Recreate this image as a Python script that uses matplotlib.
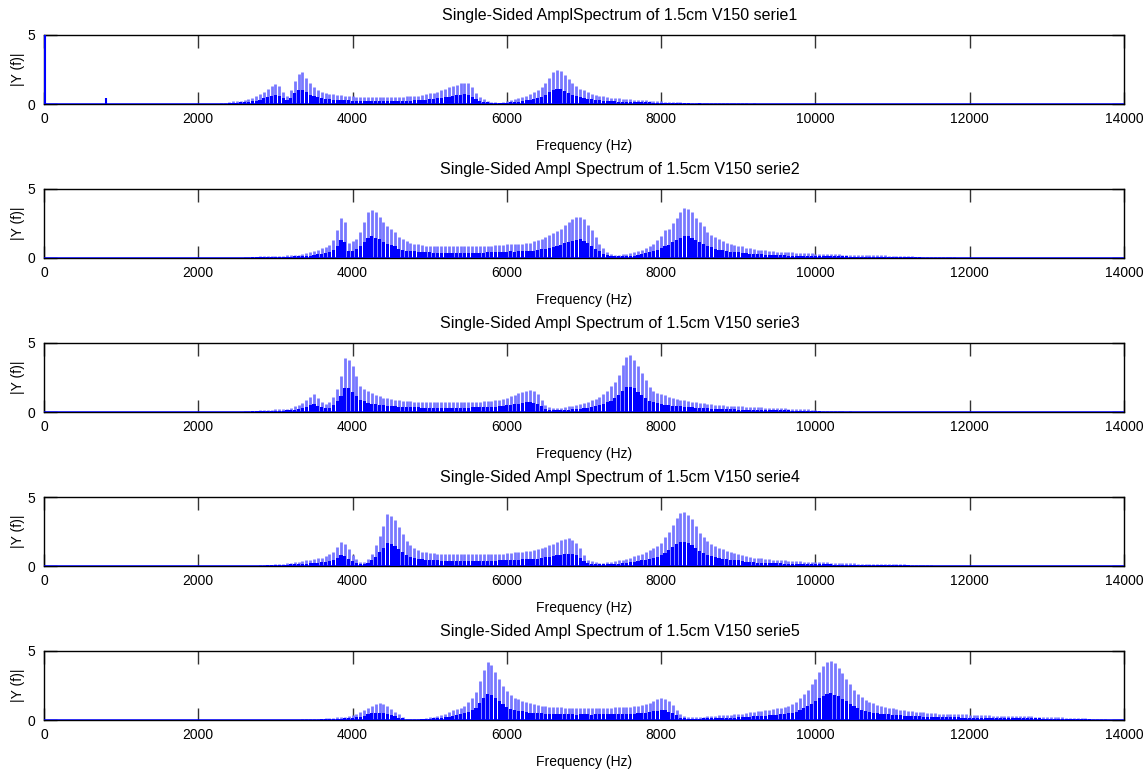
import matplotlib
matplotlib.use("Agg")
import matplotlib.pyplot as plt
import numpy as np

plt.rcParams['font.family'] = ['Liberation Sans', 'DejaVu Sans']

# spectrum line amplitudes, one value every STEP Hz from each start frequency
STEP = 50

start1 = 2300
amp1 = [
    0.05, 0.08, 0.15, 0.2, 0.2, 0.25, 0.3, 0.35, 0.45, 0.55,
    0.7, 0.9, 1.1, 1.3, 1.45, 1.3, 0.9, 0.6, 1.0, 1.7,
    2.2, 2.3, 1.9, 1.5, 1.25, 1.05, 0.9, 0.8, 0.75, 0.7,
    0.65, 0.62, 0.6, 0.58, 0.55, 0.5, 0.5, 0.5, 0.48, 0.5,
    0.5, 0.48, 0.5, 0.5, 0.5, 0.5, 0.52, 0.5, 0.55, 0.55,
    0.6, 0.6, 0.65, 0.7, 0.8, 0.8, 0.9, 1.0, 1.1, 1.2,
    1.3, 1.4, 1.5, 1.55, 1.5, 1.2, 0.8, 0.5, 0.35, 0.25,
    0.15, 0.12, 0.1, 0.12, 0.2, 0.3, 0.35, 0.4, 0.5, 0.6,
    0.7, 0.85, 1.0, 1.2, 1.5, 1.9, 2.3, 2.45, 2.4, 2.1,
    1.8, 1.5, 1.3, 1.1, 1.0, 0.85, 0.75, 0.65, 0.6, 0.55,
    0.5, 0.45, 0.42, 0.4, 0.38, 0.35, 0.33, 0.3, 0.3, 0.28,
    0.27, 0.25, 0.23, 0.2, 0.2, 0.18, 0.15, 0.15, 0.12, 0.12,
    0.1, 0.1, 0.08, 0.08, 0.1, 0.06, 0.06, 0.08, 0.05, 0.05,
    0.06, 0.04, 0.05, 0.04, 0.05, 0.04, 0.05, 0.03, 0.04, 0.03,
]

start2 = 2600
amp2 = [
    0.05, 0.08, 0.1, 0.1, 0.12, 0.12, 0.14, 0.15, 0.16, 0.18,
    0.18, 0.2, 0.22, 0.25, 0.25, 0.3, 0.35, 0.4, 0.5, 0.6,
    0.7, 0.8, 0.95, 1.3, 2.0, 2.9, 2.6, 1.1, 1.2, 1.4,
    1.9, 2.6, 3.3, 3.5, 3.3, 3.0, 2.6, 2.3, 2.1, 1.9,
    1.5, 1.35, 1.2, 1.1, 1.05, 1.0, 0.95, 0.9, 0.9, 0.88,
    0.85, 0.85, 0.85, 0.85, 0.84, 0.85, 0.85, 0.85, 0.86, 0.85,
    0.86, 0.88, 0.88, 0.9, 0.9, 0.92, 0.95, 0.95, 1.0, 1.05,
    1.0, 1.05, 1.05, 1.1, 1.1, 1.2, 1.3, 1.4, 1.5, 1.65,
    1.8, 1.95, 2.1, 2.4, 2.6, 2.8, 2.95, 3.0, 2.8, 2.4,
    2.0, 1.5, 1.05, 0.7, 0.45, 0.3, 0.25, 0.25, 0.28, 0.3,
    0.35, 0.4, 0.5, 0.6, 0.75, 0.9, 1.05, 1.3, 1.6, 2.0,
    2.1, 2.5, 2.9, 3.3, 3.6, 3.55, 3.3, 2.9, 2.6, 2.3,
    1.9, 1.7, 1.5, 1.35, 1.25, 1.1, 1.0, 0.95, 0.9, 0.85,
    0.75, 0.7, 0.65, 0.6, 0.58, 0.55, 0.5, 0.48, 0.45, 0.45,
    0.42, 0.4, 0.4, 0.38, 0.36, 0.35, 0.35, 0.33, 0.32, 0.3,
    0.3, 0.28, 0.28, 0.27, 0.26, 0.25, 0.25, 0.24, 0.23, 0.23,
    0.22, 0.22, 0.21, 0.2, 0.2, 0.2, 0.19, 0.18, 0.17, 0.16,
    0.15, 0.14, 0.13, 0.12, 0.1, 0.1, 0.08, 0.08, 0.07, 0.06,
    0.05, 0.05, 0.04, 0.05, 0.04, 0.03,
]

start3 = 2600
amp3 = [
    0.05, 0.08, 0.1, 0.1, 0.12, 0.14, 0.15, 0.18, 0.2, 0.22,
    0.24, 0.25, 0.3, 0.4, 0.5, 0.65, 0.85, 1.1, 1.3, 1.0,
    0.75, 0.6, 0.7, 1.1, 1.7, 2.6, 3.9, 3.8, 3.3, 2.6,
    1.9, 1.7, 1.5, 1.35, 1.25, 1.15, 1.05, 1.0, 0.95, 0.9,
    0.85, 0.82, 0.8, 0.77, 0.75, 0.74, 0.72, 0.72, 0.7, 0.7,
    0.7, 0.7, 0.7, 0.7, 0.71, 0.7, 0.72, 0.72, 0.72, 0.73,
    0.75, 0.76, 0.78, 0.8, 0.82, 0.85, 0.9, 0.95, 1.05, 1.15,
    1.25, 1.35, 1.45, 1.55, 1.6, 1.5, 1.3, 0.9, 0.5, 0.35,
    0.3, 0.3, 0.32, 0.35, 0.4, 0.45, 0.5, 0.55, 0.62, 0.7,
    0.85, 0.95, 1.1, 1.3, 1.55, 1.85, 2.2, 2.7, 3.4, 4.0,
    4.1, 3.8, 3.3, 2.8, 2.3, 1.8, 1.55, 1.4, 1.3, 1.2,
    1.1, 1.0, 0.95, 0.9, 0.85, 0.8, 0.75, 0.7, 0.68, 0.65,
    0.6, 0.55, 0.52, 0.5, 0.48, 0.46, 0.45, 0.42, 0.4, 0.4,
    0.38, 0.36, 0.35, 0.34, 0.33, 0.32, 0.3, 0.3, 0.28, 0.27,
    0.26, 0.25, 0.24, 0.23, 0.22, 0.21, 0.2, 0.18, 0.15, 0.1,
    0.08, 0.06, 0.05, 0.05, 0.04, 0.05, 0.03, 0.04,
]

start4 = 2800
amp4 = [
    0.05, 0.08, 0.1, 0.1, 0.12, 0.14, 0.16, 0.2, 0.25, 0.3,
    0.3, 0.35, 0.4, 0.45, 0.5, 0.55, 0.6, 0.7, 0.85, 1.0,
    1.35, 1.75, 1.6, 1.2, 0.8, 0.5, 0.3, 0.3, 0.5, 0.9,
    1.5, 2.2, 2.9, 3.75, 3.6, 3.3, 2.8, 2.3, 1.8, 1.5,
    1.3, 1.15, 1.05, 1.0, 0.95, 0.92, 0.9, 0.88, 0.86, 0.85,
    0.85, 0.84, 0.85, 0.85, 0.85, 0.85, 0.86, 0.85, 0.86, 0.87,
    0.88, 0.88, 0.9, 0.9, 0.92, 0.95, 0.98, 1.0, 1.05, 1.1,
    1.1, 1.15, 1.2, 1.3, 1.4, 1.5, 1.6, 1.75, 1.85, 1.95,
    2.0, 1.9, 1.7, 1.3, 0.8, 0.45, 0.35, 0.3, 0.25, 0.25,
    0.28, 0.3, 0.35, 0.4, 0.45, 0.5, 0.6, 0.7, 0.8, 0.9,
    1.0, 1.15, 1.3, 1.45, 1.7, 2.1, 2.5, 3.0, 3.5, 3.85,
    3.9, 3.7, 3.4, 2.9, 2.4, 2.1, 1.8, 1.6, 1.45, 1.3,
    1.2, 1.1, 1.0, 0.95, 0.9, 0.8, 0.72, 0.65, 0.6, 0.55,
    0.55, 0.5, 0.48, 0.45, 0.43, 0.42, 0.4, 0.38, 0.36, 0.35,
    0.33, 0.32, 0.31, 0.3, 0.29, 0.28, 0.27, 0.26, 0.25, 0.24,
    0.22, 0.21, 0.2, 0.2, 0.19, 0.18, 0.18, 0.17, 0.17, 0.16,
    0.16, 0.15, 0.15, 0.15, 0.14, 0.14, 0.13, 0.12, 0.1, 0.08,
    0.06, 0.05, 0.05, 0.04, 0.04, 0.03,
]

start5 = 3300
amp5 = [
    0.03, 0.04, 0.05, 0.05, 0.06, 0.08, 0.1, 0.12, 0.15, 0.18,
    0.2, 0.22, 0.25, 0.3, 0.35, 0.45, 0.55, 0.7, 0.9, 1.05,
    1.15, 1.2, 1.15, 1.0, 0.8, 0.6, 0.4, 0.25, 0.08, 0.05,
    0.05, 0.08, 0.1, 0.15, 0.2, 0.25, 0.3, 0.38, 0.45, 0.55,
    0.7, 0.8, 0.9, 1.05, 1.3, 1.6, 2.0, 2.8, 3.6, 4.2,
    4.0, 3.5, 3.0, 2.5, 2.1, 1.8, 1.6, 1.5, 1.4, 1.3,
    1.2, 1.15, 1.1, 1.05, 1.0, 0.97, 0.95, 0.93, 0.92, 0.9,
    0.9, 0.9, 0.88, 0.9, 0.9, 0.9, 0.88, 0.9, 0.9, 0.9,
    0.9, 0.9, 0.92, 0.92, 0.93, 0.95, 0.95, 1.0, 1.05, 1.1,
    1.15, 1.25, 1.4, 1.5, 1.6, 1.55, 1.35, 1.1, 0.75, 0.4,
    0.3, 0.22, 0.2, 0.2, 0.22, 0.25, 0.28, 0.3, 0.32, 0.35,
    0.35, 0.37, 0.38, 0.4, 0.42, 0.45, 0.5, 0.55, 0.6, 0.65,
    0.65, 0.7, 0.75, 0.8, 0.85, 0.9, 0.95, 1.05, 1.15, 1.3,
    1.6, 1.9, 2.2, 2.6, 3.0, 3.5, 3.9, 4.2, 4.3, 4.1,
    3.8, 3.4, 3.0, 2.6, 2.2, 1.9, 1.65, 1.45, 1.3, 1.2,
    1.1, 1.0, 0.95, 0.9, 0.85, 0.8, 0.75, 0.7, 0.66, 0.62,
    0.6, 0.58, 0.55, 0.52, 0.5, 0.48, 0.47, 0.45, 0.44, 0.42,
    0.42, 0.41, 0.4, 0.4, 0.38, 0.37, 0.36, 0.35, 0.34, 0.33,
    0.32, 0.31, 0.3, 0.3, 0.29, 0.28, 0.28, 0.27, 0.27, 0.26,
    0.26, 0.25, 0.25, 0.24, 0.23, 0.22, 0.21, 0.2, 0.19, 0.18,
    0.17, 0.16, 0.15, 0.14, 0.12, 0.1, 0.08, 0.06, 0.05, 0.04,
]

# isolated lines outside the main band (series1 only)
extra1_f = [15, 800]
extra1_a = [9.0, 0.4]

titles = [
    "Single-Sided AmplSpectrum of 1.5cm V150 serie1",
    "Single-Sided Ampl Spectrum of 1.5cm V150 serie2",
    "Single-Sided Ampl Spectrum of 1.5cm V150 serie3",
    "Single-Sided Ampl Spectrum of 1.5cm V150 serie4",
    "Single-Sided Ampl Spectrum of 1.5cm V150 serie5",
]
starts = [start1, start2, start3, start4, start5]
amps = [amp1, amp2, amp3, amp4, amp5]
xticks = [0, 2000, 4000, 6000, 8000, 10000, 12000, 14000]

DARK_FRAC = 0.45

fig = plt.figure(figsize=(11.47, 7.74), dpi=100)
W, H = 1147.0, 774.0
left, right = 44, 1124
bottoms = [104, 258, 412, 566, 720]
ax_h = 69

for i in range(5):
    ax = fig.add_axes([left / W, 1 - bottoms[i] / H, (right - left) / W, ax_h / H])
    a = np.asarray(amps[i])
    f = starts[i] + STEP * np.arange(len(a))
    ax.vlines(f, 0, a, color='#7878ff', lw=2.0, zorder=2)
    ax.bar(f, a * DARK_FRAC, width=42, color='#0000ff', linewidth=0, zorder=3)
    if i == 0:
        ax.vlines(extra1_f, 0, extra1_a, color='#0000ff', lw=1.5, zorder=3)
    ax.axhline(0, color='#0000ff', lw=1.8, zorder=4)
    ax.set_xlim(0, 14000)
    ax.set_ylim(0, 5)
    ax.set_xticks(xticks)
    ax.set_yticks([0, 5])
    ax.tick_params(direction='in', top=True, right=True, length=9, width=1.0,
                   color='#333333', labelsize=10, pad=6)
    for s in ax.spines.values():
        s.set_linewidth(1.0)
    ax.set_title(titles[i], fontsize=11.5, pad=11, x=0.533)
    ax.set_xlabel("Frequency (Hz)", fontsize=10, labelpad=9)
    ax.set_ylabel("|Y (f)|", fontsize=10, labelpad=2)

fig.savefig("out.png", dpi=100)
